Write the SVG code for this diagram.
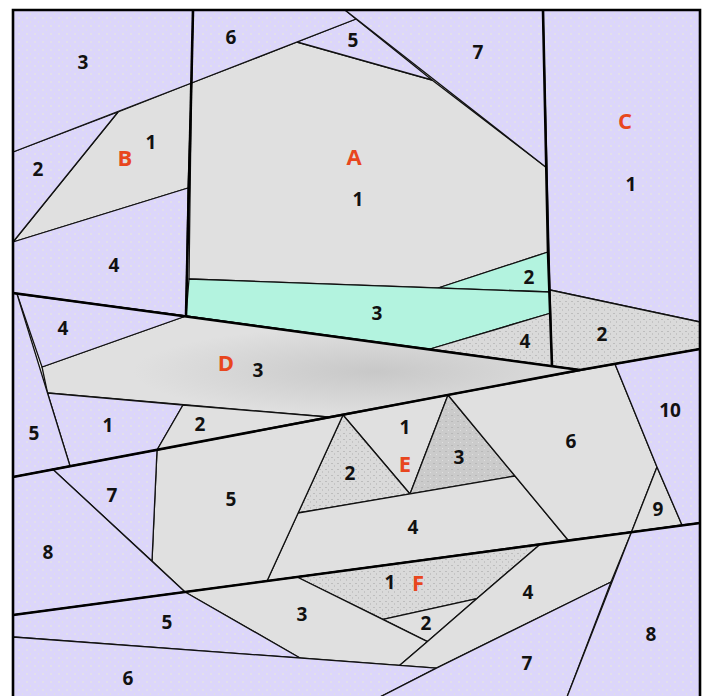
<svg xmlns="http://www.w3.org/2000/svg" width="709" height="696" viewBox="0 0 709 696">
<defs>
<pattern id="stip" width="6" height="6" patternUnits="userSpaceOnUse">
<rect width="6" height="6" fill="#dadada"/>
<rect x="1" y="1" width="2" height="1" fill="#bdbdbd"/>
<rect x="4" y="3" width="1" height="2" fill="#c4c4c4"/>
</pattern>
<pattern id="stip2" width="6" height="6" patternUnits="userSpaceOnUse">
<rect width="6" height="6" fill="#cbcbcb"/>
<rect x="1" y="1" width="2" height="1" fill="#b8b8b8"/>
<rect x="4" y="4" width="1" height="1" fill="#e0e0e0"/>
</pattern>
<pattern id="lavp" width="8" height="8" patternUnits="userSpaceOnUse">
<rect width="8" height="8" fill="#dcd6fa"/>
<rect x="2" y="1" width="2" height="2" fill="#e2e0ea"/>
<rect x="6" y="5" width="1" height="2" fill="#e0dfe6"/>
</pattern>
<radialGradient id="dg" cx="0.62" cy="0.55" r="0.45">
<stop offset="0" stop-color="#c2c2c2" stop-opacity="0.8"/>
<stop offset="1" stop-color="#c2c2c2" stop-opacity="0"/>
</radialGradient>
</defs>
<style>
.lav{fill:url(#lavp)}
.gry{fill:#e0e0e0}
.mint{fill:#b3f3df}
.stp{fill:url(#stip)}
.dk{fill:url(#stip2)}
.p{stroke:#111;stroke-width:1.3;stroke-linejoin:round}
.thick{fill:none;stroke:#000;stroke-width:2.6;stroke-linecap:butt}
.n{font-family:"Open Sans","DejaVu Sans",sans-serif;font-weight:700;font-size:19px;fill:#111;text-anchor:middle;dominant-baseline:central}
.l{font-family:"Open Sans","DejaVu Sans",sans-serif;font-weight:700;font-size:22px;fill:#e8461e;text-anchor:middle;dominant-baseline:central}
</style>
<rect width="709" height="696" fill="#fff"/>

<g id="A">
<polygon id="A1" class="gry p" points="191.5,83 297,42 432,80 547,168 548,252 438,288 189,279"/>
<polygon id="A2" class="mint p" points="438,288 548,252 550,292"/>
<polygon id="A3" class="mint p" points="189,279 550,292 551,313 430,349 186,316"/>
<polygon id="A4" class="stp p" points="430,349 551,313 552,366"/>
<polygon id="A5" class="lav p" points="297,42 356,19 432,80"/>
<polygon id="A6" class="lav p" points="193,10 345,10 356,19 191.5,83"/>
<polygon id="A7" class="lav p" points="345,10 543,10 547,168"/>
</g>
<g id="B">
<polygon id="B1" class="gry p" points="118,112 191.5,83 188,188 13,242"/>
<polygon id="B2" class="lav p" points="13,152 118,112 13,242"/>
<polygon id="B3" class="lav p" points="13,10 193,10 191.5,83 13,152"/>
<polygon id="B4" class="lav p" points="13,242 188,188 186,316 13,293"/>
</g>
<g id="C">
<polygon id="C1" class="lav p" points="543,10 700,10 700,322 550,290"/>
<polygon id="C2" class="stp p" points="550,290 700,322 700,349 580,370 552,366"/>
</g>
<g id="D">
<polygon id="D3" class="gry p" points="186,316 580,370 328,417 47.5,393 42,367"/>
<polygon points="186,316 580,370 328,417 47.5,393 42,367" fill="url(#dg)"/>
<polygon id="D1" class="lav p" points="47.5,393 183,405 157,450 70,466"/>
<polygon id="D2" class="gry p" points="183,405 328,417 157,450"/>
<polygon id="D4" class="lav p" points="17,294 186,316 42,367"/>
<polygon id="D5" class="lav p" points="13,293 17,294 70,466 13,477"/>
</g>
<g id="E">
<polygon id="E1" class="gry p" points="343,415 448,395 410,494"/>
<polygon id="E2" class="stp p" points="343,415 410,494 298,513"/>
<polygon id="E3" class="dk p" points="448,395 515,476 410,494"/>
<polygon id="E4" class="gry p" points="298,513 515,476 568,540 267,581"/>
<polygon id="E5" class="gry p" points="157,450 343,415 267,581 185,592 152,561"/>
<polygon id="E6" class="gry p" points="448,395 615,364 657,467 631.5,532 568,540"/>
<polygon id="E7" class="lav p" points="53,469.5 157,450 152,561"/>
<polygon id="E8" class="lav p" points="13,477 53,469.5 185,592 13,615"/>
<polygon id="E9" class="gry p" points="657,467 682,525 631.5,532"/>
<polygon id="E10" class="lav p" points="615,364 700,349 700,523 682,525 657,467"/>
</g>
<g id="F">
<polygon id="F1" class="stp p" points="297,577 540,544.4 477,598.6 383,619.3"/>
<polygon id="F2" class="gry p" points="383,619.3 477,598.6 427.5,641.6"/>
<polygon id="F3" class="gry p" points="185,592 297,577 427.5,641.6 399.5,665.4 300,658"/>
<polygon id="F4" class="gry p" points="540,544.4 631.5,532 611,582 436.4,668.1 399.5,665.4 427.5,641.6 477,598.6"/>
<polygon id="F5" class="lav p" points="13,615 185,592 300,658 13,637"/>
<polygon id="F6" class="lav p" points="13,637 436.4,668.1 380,697 13,697"/>
<polygon id="F7" class="lav p" points="436.4,668.1 611,582 567,697 380,697"/>
<polygon id="F8" class="lav p" points="631.5,532 700,523 700,697 567,697"/>
</g>

<g id="connectors">
<polyline class="thick" points="193,10 186,316"/>
<polyline class="thick" points="543,10 548,252 552,366"/>
<polyline class="thick" points="13,293 580,370"/>
<polyline class="thick" points="13,477 580,370 700,349"/>
<polyline class="thick" points="13,615 700,523"/>
<polyline class="thick" points="13,697 13,10 700,10 700,697"/>
</g>

<g id="labels">
<text class="n" x="231" y="37">6</text>
<text class="n" x="353" y="40">5</text>
<text class="n" x="478" y="52">7</text>
<text class="n" x="83" y="62">3</text>
<text class="l" x="125" y="157">B</text>
<text class="n" x="151" y="142">1</text>
<text class="n" x="38" y="169">2</text>
<text class="l" x="354" y="156">A</text>
<text class="n" x="358" y="199">1</text>
<text class="l" x="625" y="120">C</text>
<text class="n" x="631" y="184">1</text>
<text class="n" x="114" y="265">4</text>
<text class="n" x="529" y="277">2</text>
<text class="n" x="377" y="313">3</text>
<text class="n" x="525" y="341">4</text>
<text class="n" x="602" y="334">2</text>
<text class="n" x="63" y="328">4</text>
<text class="l" x="226" y="362">D</text>
<text class="n" x="258" y="370">3</text>
<text class="n" x="34" y="433">5</text>
<text class="n" x="108" y="425">1</text>
<text class="n" x="200" y="424">2</text>
<text class="n" x="405" y="427">1</text>
<text class="l" x="405" y="463">E</text>
<text class="n" x="350" y="473">2</text>
<text class="n" x="459" y="457">3</text>
<text class="n" x="571" y="441">6</text>
<text class="n" x="670" y="410">10</text>
<text class="n" x="112" y="495">7</text>
<text class="n" x="231" y="499">5</text>
<text class="n" x="48" y="552">8</text>
<text class="n" x="413" y="527">4</text>
<text class="n" x="658" y="509">9</text>
<text class="n" x="390" y="582">1</text>
<text class="l" x="418" y="582">F</text>
<text class="n" x="302" y="614">3</text>
<text class="n" x="528" y="592">4</text>
<text class="n" x="426" y="623">2</text>
<text class="n" x="167" y="622">5</text>
<text class="n" x="651" y="634">8</text>
<text class="n" x="527" y="663">7</text>
<text class="n" x="128" y="678">6</text>
</g>
</svg>
